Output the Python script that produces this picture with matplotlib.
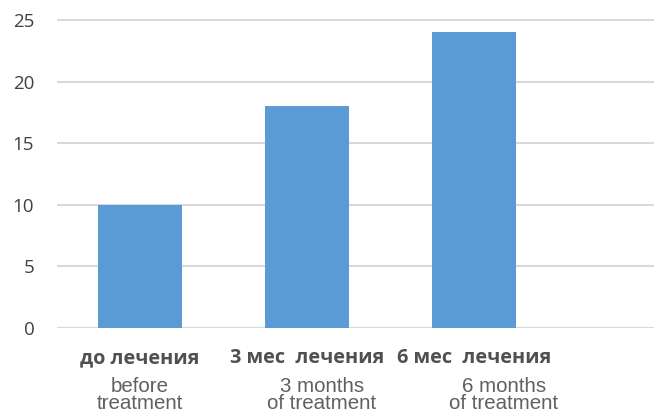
import numpy as np
import matplotlib.pyplot as plt

# data
groups_ru = ["до лечения", "3 мес  лечения", "6 мес  лечения"]
groups_en = ["before\ntreatment", "3 months\nof treatment", "6 months\nof treatment"]
values = [10, 18, 24]
en_offset = [0.0, 0.09, 0.18]   # english captions sit a bit to the right
yticks = [0, 5, 10, 15, 20, 25]

W, H = 654, 417
fig = plt.figure(figsize=(W / 100, H / 100), dpi=100)
# axes box in pixels: left 56.5, right edge of figure, y=0 at 328px, top at 7.7px
ax = fig.add_axes([56.5 / W, (H - 328) / H, 1 - 56.5 / W, (328 - 7.7) / H])

x = np.arange(len(values))
ax.bar(x, values, width=0.5, color="#5b9bd5", zorder=3)

ax.set_xlim(-0.5, (654 - 140) / 167)
ax.set_ylim(0, 26)
ax.set_yticks(yticks)
ax.yaxis.grid(True, color="#d9d9d9", linewidth=1.5, zorder=0)
ax.set_axisbelow(True)
for s in ax.spines.values():
    s.set_visible(False)
ax.tick_params(axis="y", length=0, pad=16, labelsize=13.5, labelcolor="#404040")
for lab in ax.get_yticklabels():
    lab.set_fontfamily("Open Sans")
ax.set_xticks([])

# two-language category captions
for i in range(len(values)):
    ax.text(x[i], -2.45, groups_ru[i], ha="center", va="center", fontsize=14.3,
            fontweight="bold", family="Open Sans", color="#505050")
    ax.text(x[i] + en_offset[i], -5.45, groups_en[i], ha="center", va="center",
            fontsize=14.8, family="Liberation Sans", color="#606060", linespacing=0.85)

fig.savefig("out.png", dpi=100)
